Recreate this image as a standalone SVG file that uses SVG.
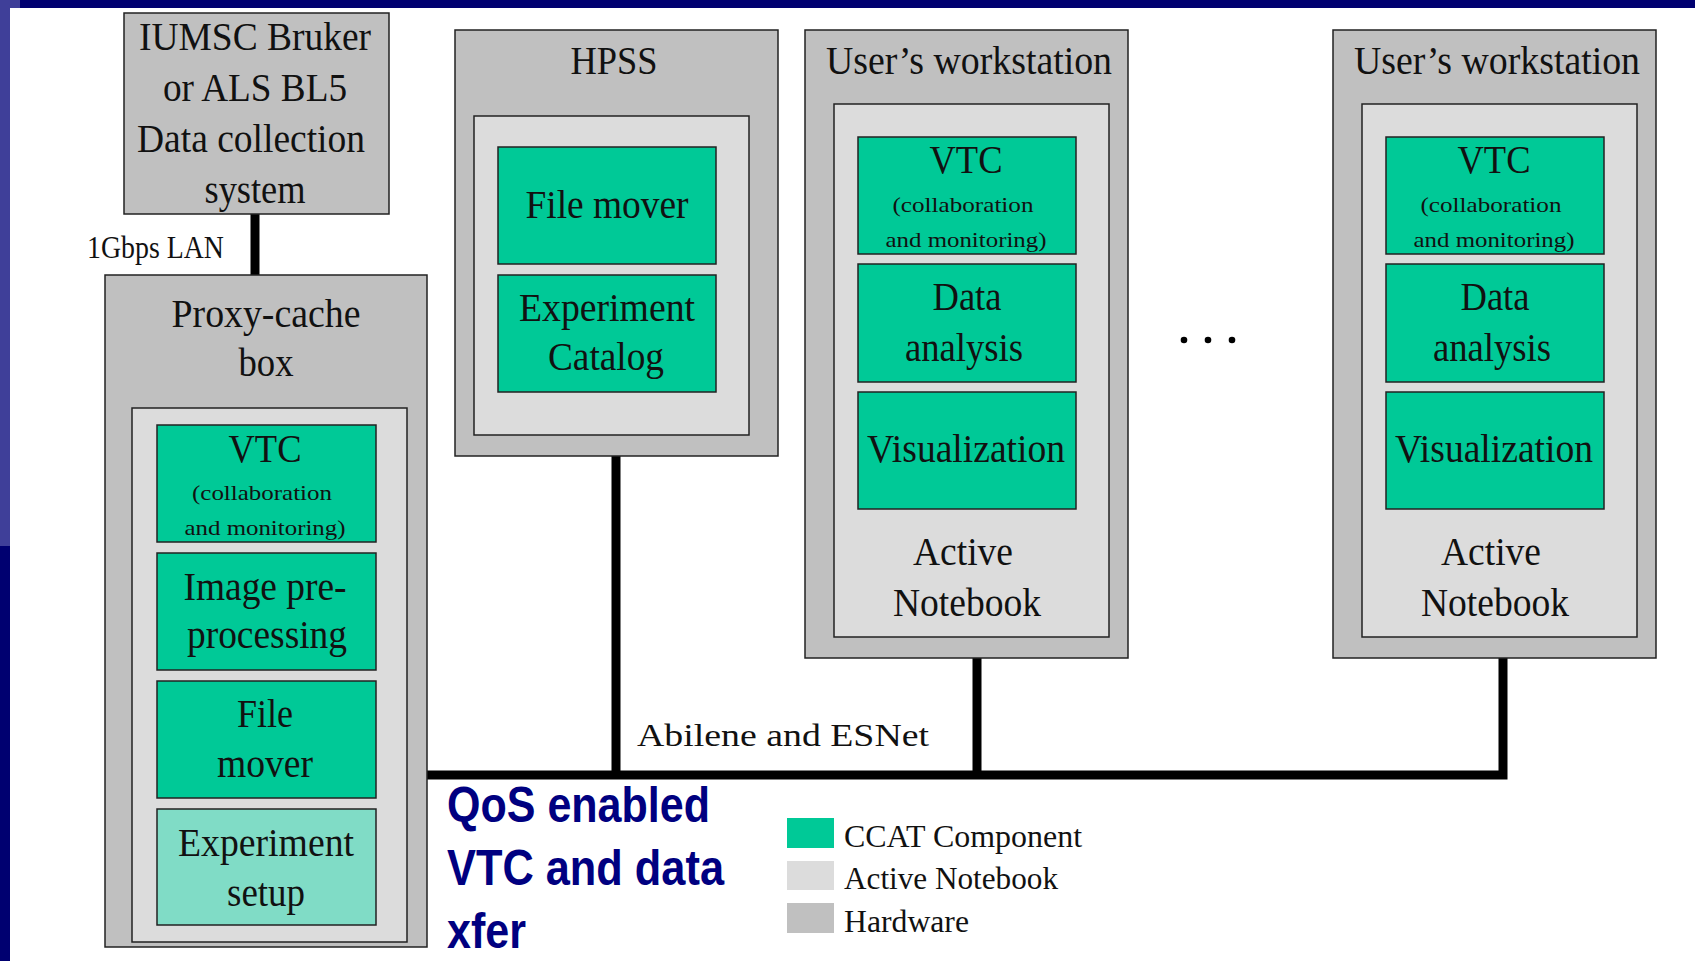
<svg xmlns="http://www.w3.org/2000/svg" width="1695" height="961" viewBox="0 0 1695 961">
<style>
.hw{fill:#c0c0c0;stroke:#222;stroke-width:1.5}
.an{fill:#dcdcdc;stroke:#222;stroke-width:1.5}
.cc{fill:#00c997;stroke:#222;stroke-width:1.5}
.cs{fill:#80dcc6;stroke:#222;stroke-width:1.5}
.t{font-family:"Liberation Serif","Times New Roman",serif;font-size:40px;fill:#111;text-anchor:middle}
.s{font-family:"Liberation Serif","Times New Roman",serif;font-size:22px;fill:#111;text-anchor:middle}
.lg{font-family:"Liberation Serif","Times New Roman",serif;font-size:31px;fill:#111}
.q{font-family:"Liberation Sans",Arial,sans-serif;font-weight:bold;font-size:50px;fill:#000080}
.w{fill:none;stroke:#000;stroke-width:9}
</style>
<rect x="0" y="0" width="1695" height="961" fill="#ffffff"/>
<g id="frame">
<rect x="0" y="0" width="1695" height="8" fill="#000070"/>
<rect x="0" y="0" width="20" height="8" fill="#3f3f99"/>
<rect x="0" y="0" width="10" height="546" fill="#3f3f99"/>
<rect x="0" y="546" width="10" height="415" fill="#000070"/>
</g>
<g id="connectors">
<path class="w" d="M255,214 V275" stroke-width="8"/>
<path class="w" d="M616,456 V775"/>
<path class="w" d="M977,658 V775"/>
<path class="w" d="M427,775 H1503 V658"/>
<line x1="968" y1="382" x2="968" y2="392" stroke="#222" stroke-width="1.5"/>
<line x1="1496" y1="382" x2="1496" y2="392" stroke="#222" stroke-width="1.5"/>
</g>
<g id="iumsc">
<rect class="hw" x="124" y="13" width="265" height="201"/>
<text class="t" x="255" y="50" font-size="42" textLength="232" lengthAdjust="spacingAndGlyphs">IUMSC Bruker</text>
<text class="t" x="255" y="101" font-size="42" textLength="184" lengthAdjust="spacingAndGlyphs">or ALS BL5</text>
<text class="t" x="251" y="152" font-size="42" textLength="228" lengthAdjust="spacingAndGlyphs">Data collection</text>
<text class="t" x="255" y="203" font-size="42" textLength="101" lengthAdjust="spacingAndGlyphs">system</text>
</g>
<g id="lan-label">
<text class="lg" x="87" y="258" font-size="29" textLength="137" lengthAdjust="spacingAndGlyphs">1Gbps LAN</text>
</g>
<g id="proxy">
<rect class="hw" x="105" y="275" width="322" height="672"/>
<text class="t" x="266" y="327" textLength="189" lengthAdjust="spacingAndGlyphs">Proxy-cache</text>
<text class="t" x="266" y="376" textLength="55" lengthAdjust="spacingAndGlyphs">box</text>
<rect class="an" x="132" y="408" width="275" height="534"/>
<rect class="cc" x="157" y="425" width="219" height="117"/>
<text class="t" x="265" y="462" textLength="73" lengthAdjust="spacingAndGlyphs">VTC</text>
<text class="s" x="262" y="500" textLength="140" lengthAdjust="spacingAndGlyphs">(collaboration</text>
<text class="s" x="265" y="535" textLength="161" lengthAdjust="spacingAndGlyphs">and monitoring)</text>
<rect class="cc" x="157" y="553" width="219" height="117"/>
<text class="t" x="265" y="600" textLength="163" lengthAdjust="spacingAndGlyphs">Image pre-</text>
<text class="t" x="267" y="648" textLength="160" lengthAdjust="spacingAndGlyphs">processing</text>
<rect class="cc" x="157" y="681" width="219" height="117"/>
<text class="t" x="265" y="727" textLength="56" lengthAdjust="spacingAndGlyphs">File</text>
<text class="t" x="265" y="777" textLength="96" lengthAdjust="spacingAndGlyphs">mover</text>
<rect class="cs" x="157" y="809" width="219" height="116"/>
<text class="t" x="266" y="856" textLength="176" lengthAdjust="spacingAndGlyphs">Experiment</text>
<text class="t" x="266" y="906" textLength="78" lengthAdjust="spacingAndGlyphs">setup</text>
</g>
<g id="hpss">
<rect class="hw" x="455" y="30" width="323" height="426"/>
<text class="t" x="614" y="74" textLength="87" lengthAdjust="spacingAndGlyphs">HPSS</text>
<rect class="an" x="474" y="116" width="275" height="319"/>
<rect class="cc" x="498" y="147" width="218" height="117"/>
<text class="t" x="607" y="218" textLength="163" lengthAdjust="spacingAndGlyphs">File mover</text>
<rect class="cc" x="498" y="275" width="218" height="117"/>
<text class="t" x="607" y="321" textLength="176" lengthAdjust="spacingAndGlyphs">Experiment</text>
<text class="t" x="606" y="370" textLength="116" lengthAdjust="spacingAndGlyphs">Catalog</text>
</g>
<g id="workstation1">
<rect class="hw" x="805" y="30" width="323" height="628"/>
<text class="t" x="969" y="74" textLength="286" lengthAdjust="spacingAndGlyphs">User&#8217;s workstation</text>
<rect class="an" x="834" y="104" width="275" height="533"/>
<rect class="cc" x="858" y="137" width="218" height="117"/>
<text class="t" x="966" y="173" textLength="73" lengthAdjust="spacingAndGlyphs">VTC</text>
<text class="s" x="963" y="212" textLength="141" lengthAdjust="spacingAndGlyphs">(collaboration</text>
<text class="s" x="966" y="247" textLength="161" lengthAdjust="spacingAndGlyphs">and monitoring)</text>
<rect class="cc" x="858" y="264" width="218" height="118"/>
<text class="t" x="967" y="310" textLength="69" lengthAdjust="spacingAndGlyphs">Data</text>
<text class="t" x="964" y="361" textLength="118" lengthAdjust="spacingAndGlyphs">analysis</text>
<rect class="cc" x="858" y="392" width="218" height="117"/>
<text class="t" x="966" y="462" textLength="198" lengthAdjust="spacingAndGlyphs">Visualization</text>
<text class="t" x="963" y="565" textLength="100" lengthAdjust="spacingAndGlyphs">Active</text>
<text class="t" x="967" y="616" textLength="148" lengthAdjust="spacingAndGlyphs">Notebook</text>
</g>
<g id="workstation2" transform="translate(528,0)">
<rect class="hw" x="805" y="30" width="323" height="628"/>
<text class="t" x="969" y="74" textLength="286" lengthAdjust="spacingAndGlyphs">User&#8217;s workstation</text>
<rect class="an" x="834" y="104" width="275" height="533"/>
<rect class="cc" x="858" y="137" width="218" height="117"/>
<text class="t" x="966" y="173" textLength="73" lengthAdjust="spacingAndGlyphs">VTC</text>
<text class="s" x="963" y="212" textLength="141" lengthAdjust="spacingAndGlyphs">(collaboration</text>
<text class="s" x="966" y="247" textLength="161" lengthAdjust="spacingAndGlyphs">and monitoring)</text>
<rect class="cc" x="858" y="264" width="218" height="118"/>
<text class="t" x="967" y="310" textLength="69" lengthAdjust="spacingAndGlyphs">Data</text>
<text class="t" x="964" y="361" textLength="118" lengthAdjust="spacingAndGlyphs">analysis</text>
<rect class="cc" x="858" y="392" width="218" height="117"/>
<text class="t" x="966" y="462" textLength="198" lengthAdjust="spacingAndGlyphs">Visualization</text>
<text class="t" x="963" y="565" textLength="100" lengthAdjust="spacingAndGlyphs">Active</text>
<text class="t" x="967" y="616" textLength="148" lengthAdjust="spacingAndGlyphs">Notebook</text>
</g>
<g id="ellipsis">
<circle cx="1184" cy="340" r="3.3" fill="#000"/>
<circle cx="1208" cy="340" r="3.3" fill="#000"/>
<circle cx="1232" cy="340" r="3.3" fill="#000"/>
</g>
<g id="network-label">
<text class="lg" x="637" y="746" font-size="40" textLength="292" lengthAdjust="spacingAndGlyphs">Abilene and ESNet</text>
</g>
<g id="qos">
<text class="q" x="447" y="822" textLength="263" lengthAdjust="spacingAndGlyphs">QoS enabled</text>
<text class="q" x="447" y="885" textLength="277" lengthAdjust="spacingAndGlyphs">VTC and data</text>
<text class="q" x="447" y="948" textLength="79" lengthAdjust="spacingAndGlyphs">xfer</text>
</g>
<g id="legend">
<rect x="787" y="818" width="47" height="30" fill="#00c997"/>
<rect x="787" y="861" width="47" height="29" fill="#dcdcdc"/>
<rect x="787" y="903" width="47" height="30" fill="#c0c0c0"/>
<text class="lg" x="844" y="847" textLength="238" lengthAdjust="spacingAndGlyphs">CCAT Component</text>
<text class="lg" x="844" y="889" textLength="214" lengthAdjust="spacingAndGlyphs">Active Notebook</text>
<text class="lg" x="844" y="932" textLength="125" lengthAdjust="spacingAndGlyphs">Hardware</text>
</g>
</svg>
